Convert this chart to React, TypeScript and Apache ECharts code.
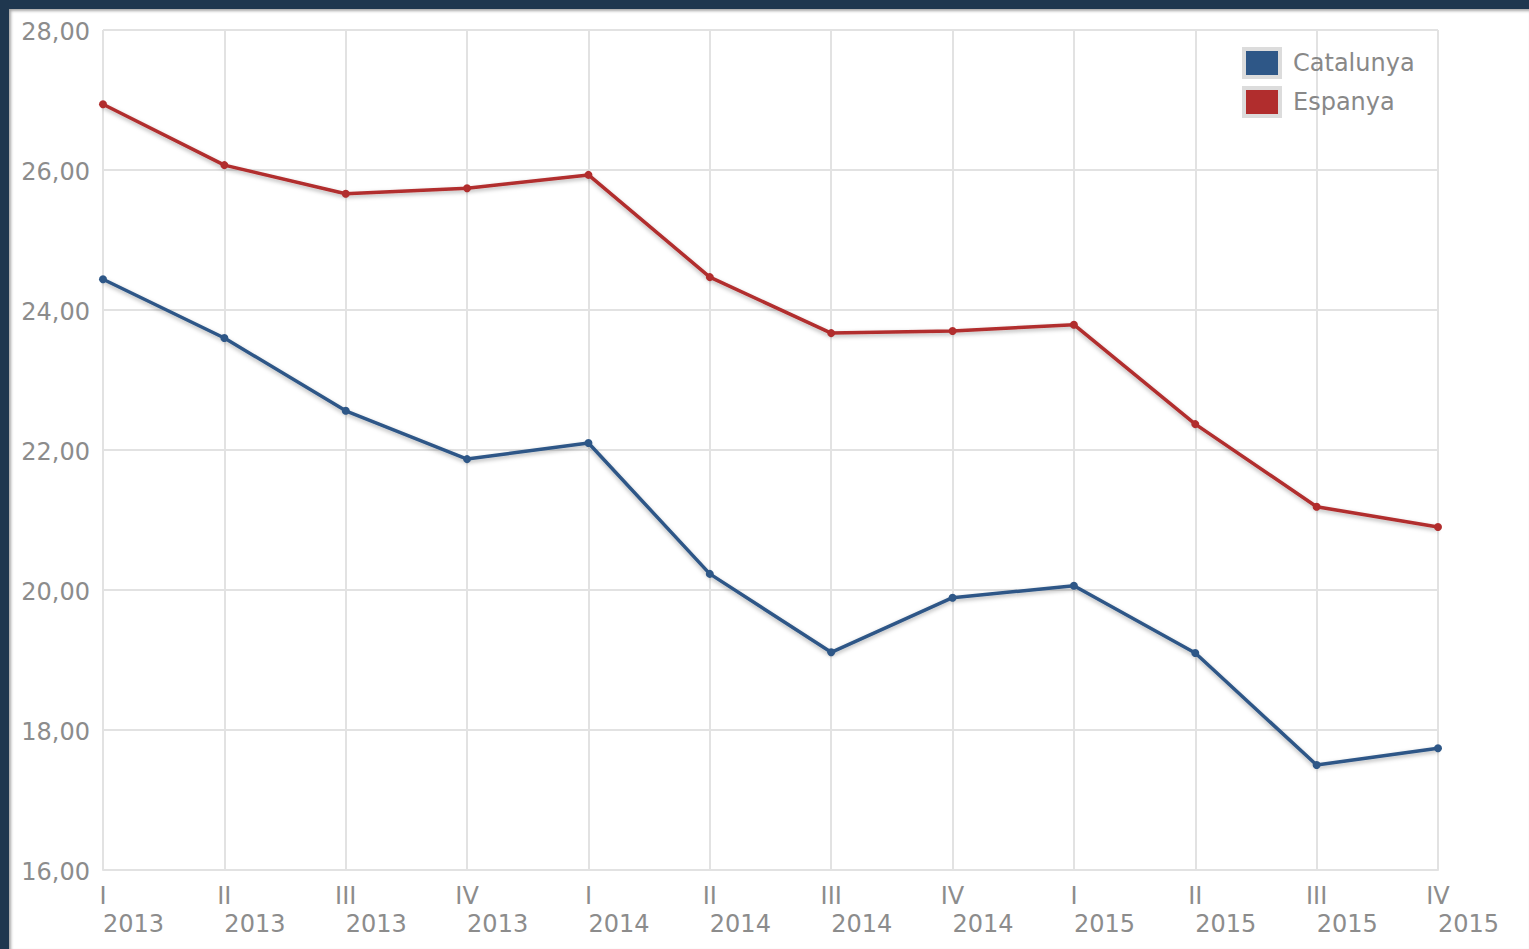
import React, { useEffect, useRef } from "react";
import * as echarts from "echarts";

const quarters = ["I", "II", "III", "IV", "I", "II", "III", "IV", "I", "II", "III", "IV"];
const years = ["2013", "2013", "2013", "2013", "2014", "2014", "2014", "2014", "2015", "2015", "2015", "2015"];
const catalunya = [24.44, 23.6, 22.56, 21.87, 22.1, 20.23, 19.11, 19.89, 20.06, 19.1, 17.5, 17.74];
const espanya = [26.94, 26.07, 25.66, 25.74, 25.93, 24.47, 23.67, 23.7, 23.79, 22.37, 21.19, 20.9];
const seriesNames = ["Catalunya", "Espanya"];
const yTicks = { min: 16, max: 28, interval: 2 };

const FONT = "DejaVu Sans";
const TEXT = "#8c8c8c";
const BLUE = "#2e5787";
const RED = "#b12d2d";

export default function App() {
  const ref = useRef<HTMLDivElement>(null);
  useEffect(() => {
    if (!ref.current) return;
    const chart = echarts.init(ref.current, undefined, { renderer: "svg" });
    const lineSeries = (name: string, data: number[], color: string) => ({
      name,
      type: "line",
      data,
      symbol: "circle",
      symbolSize: 8,
      showSymbol: true,
      lineStyle: {
        color,
        width: 3.5,
        shadowColor: "rgba(0,0,0,0.3)",
        shadowBlur: 4,
        shadowOffsetY: 2,
      },
      itemStyle: { color },
      emphasis: { disabled: true },
    });
    chart.setOption({
      animation: false,
      backgroundColor: "transparent",
      grid: { left: 103, right: 91, top: 30, bottom: 79, containLabel: false },
      legend: {
        orient: "vertical",
        left: 1237,
        top: 42,
        icon: "rect",
        itemWidth: 36,
        itemHeight: 28,
        itemGap: 7,
        data: seriesNames,
        itemStyle: { borderColor: "#dcdcdc", borderWidth: 4 },
        textStyle: { fontFamily: FONT, fontSize: 24, color: "#888", padding: [0, 0, 0, 8] },
        selectedMode: false,
      },
      xAxis: [
        {
          type: "category",
          data: quarters,
          boundaryGap: false,
          axisLine: { lineStyle: { color: "#e2e2e2", width: 2 } },
          axisTick: { show: false },
          splitLine: { show: true, lineStyle: { color: "#e2e2e2", width: 2 } },
          axisLabel: { interval: 0, margin: 14, fontFamily: FONT, fontSize: 24, color: TEXT },
        },
        {
          type: "category",
          data: years,
          position: "bottom",
          boundaryGap: false,
          axisLine: { show: false },
          axisTick: { show: false },
          splitLine: { show: false },
          axisLabel: {
            interval: 0,
            margin: 42,
            align: "left",
            fontFamily: FONT,
            fontSize: 24,
            color: TEXT,
          },
        },
      ],
      yAxis: {
        type: "value",
        min: yTicks.min,
        max: yTicks.max,
        interval: yTicks.interval,
        axisLine: { show: false },
        axisTick: { show: false },
        splitLine: { lineStyle: { color: "#e2e2e2", width: 2 } },
        axisLabel: {
          margin: 13,
          fontFamily: FONT,
          fontSize: 24,
          color: TEXT,
          verticalAlign: "top",
          padding: [-10, 0, 0, 0],
          formatter: (v: number) => v.toFixed(2).replace(".", ","),
        },
      },
      series: [
        lineSeries(seriesNames[0], catalunya, BLUE),
        lineSeries(seriesNames[1], espanya, RED),
      ],
    });
    return () => chart.dispose();
  }, []);

  return (
    <div style={{ position: "fixed", left: 0, top: 0, width: 1529, height: 949, background: "#1f374f", overflow: "hidden" }}>
      <div style={{ position: "absolute", left: 9, top: 9, right: 0, bottom: 0, background: "#ffffff", boxShadow: "inset 2px 2px 3px rgba(0,0,0,0.35)" }} />
      <div ref={ref} style={{ position: "absolute", left: 0, top: 0, width: 1529, height: 949 }} />
    </div>
  );
}
